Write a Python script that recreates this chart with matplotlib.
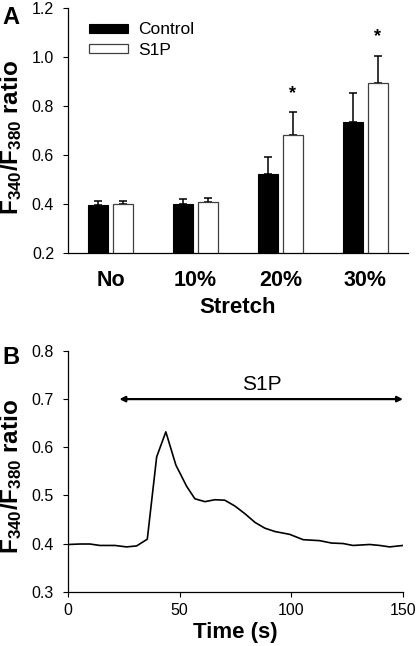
import numpy as np
import matplotlib
matplotlib.use("Agg")
import matplotlib.pyplot as plt

plt.rcParams["font.family"] = ["Liberation Sans", "DejaVu Sans"]
plt.rcParams["mathtext.fontset"] = "custom"
plt.rcParams["mathtext.rm"] = "Liberation Sans"
plt.rcParams["mathtext.bf"] = "Liberation Sans:bold"

# panel A data
stretch = ["No", "10%", "20%", "30%"]
control_mean = [0.395, 0.40, 0.524, 0.733]
control_err = [0.017, 0.019, 0.069, 0.121]
s1p_mean = [0.40, 0.41, 0.683, 0.894]
s1p_err = [0.012, 0.014, 0.091, 0.110]
significant = [False, False, True, True]

# panel B data
time_s = [0, 5.4, 9.8, 14.3, 21, 26.2, 30.7, 35.5, 39.7, 43.8, 48.3, 53.1, 56.8,
          61.3, 65.8, 70.2, 74.7, 79.2, 83.7, 88.1, 92.6, 99.3, 105.3, 112.7,
          118, 123.2, 127.6, 135.1, 139.6, 144, 150]
ratio = [0.398, 0.399, 0.399, 0.396, 0.396, 0.393, 0.395, 0.409, 0.580, 0.632,
         0.563, 0.519, 0.493, 0.487, 0.491, 0.490, 0.478, 0.462, 0.444, 0.432,
         0.425, 0.419, 0.408, 0.406, 0.401, 0.400, 0.396, 0.398, 0.396, 0.393, 0.396]
s1p_start, s1p_end = 23, 150

ylab = r"$\mathbf{F_{340}/F_{380}}$ ratio"

fig = plt.figure(figsize=(4.18, 6.46), dpi=100)

# ---- A ----
ax = fig.add_axes([0.1627, 0.6084, 0.8133, 0.3792])
x = np.arange(len(stretch))
w = 0.235
off = 0.147
ax.bar(x - off, control_mean, w, color="black", edgecolor="black", lw=0.8,
       label="Control", zorder=2)
ax.bar(x + off, s1p_mean, w, color="white", edgecolor="#404040", lw=0.9,
       label="S1P", zorder=2)
ax.errorbar(x - off, control_mean, yerr=[np.zeros(4), control_err], fmt="none",
            ecolor="black", elinewidth=1.1, capsize=3, capthick=1.1, zorder=1)
ax.errorbar(x + off, s1p_mean, yerr=[np.zeros(4), s1p_err], fmt="none",
            ecolor="black", elinewidth=1.1, capsize=3, capthick=1.1, zorder=1)
for i in range(len(stretch)):
    if significant[i]:
        ax.text(x[i] + off, s1p_mean[i] + s1p_err[i] + 0.078, "*", ha="center",
                va="center", fontsize=13, fontweight="bold")
ax.set_xlim(-0.5, 3.5)
ax.set_ylim(0.2, 1.2)
ax.set_yticks(np.arange(0.2, 1.21, 0.2))
ax.set_yticklabels([f"{v:.1f}" for v in np.arange(0.2, 1.21, 0.2)], fontsize=11.5)
ax.set_xticks(x)
ax.set_xticklabels(stretch, fontsize=15.5, fontweight="bold")
ax.tick_params(axis="x", length=0, pad=12)
ax.tick_params(axis="y", length=3.5, pad=6.5, direction="out", width=0.8)
for s in ["top", "right"]:
    ax.spines[s].set_visible(False)
for s in ["left", "bottom"]:
    ax.spines[s].set_linewidth(0.9)
ax.set_xlabel("Stretch", fontsize=16, fontweight="bold")
ax.xaxis.set_label_coords(0.5, -0.178)
ax.set_ylabel(ylab, fontsize=17.5, fontweight="bold")
ax.yaxis.set_label_coords(-0.128, 0.47)
ax.legend(loc="upper left", bbox_to_anchor=(0.04, 0.97), frameon=False,
          fontsize=12.5, handlelength=2.3, handleheight=0.42, handletextpad=0.55,
          labelspacing=0.3, borderaxespad=0)

# ---- B ----
bx = fig.add_axes([0.1627, 0.0841, 0.8014, 0.3726])
bx.plot(time_s, ratio, color="black", lw=1.2)
bx.annotate("", xy=(s1p_end, 0.7), xytext=(s1p_start, 0.7),
            arrowprops=dict(arrowstyle="<|-|>", color="black", lw=1.6,
                            mutation_scale=8, shrinkA=0, shrinkB=0))
bx.text(86.6, 0.730, "S1P", ha="center", va="center", fontsize=15)
bx.set_xlim(0, 150)
bx.set_ylim(0.3, 0.8)
bx.set_xticks([0, 50, 100, 150])
bx.set_yticks([0.3, 0.4, 0.5, 0.6, 0.7, 0.8])
bx.set_yticklabels(["0.3", "0.4", "0.5", "0.6", "0.7", "0.8"], fontsize=11.5)
bx.set_xticklabels(["0", "50", "100", "150"], fontsize=11.5)
bx.tick_params(axis="both", length=3.5, direction="out", width=0.8)
bx.tick_params(axis="y", pad=6.5)
bx.tick_params(axis="x", pad=5)
for s in ["top", "right"]:
    bx.spines[s].set_visible(False)
for s in ["left", "bottom"]:
    bx.spines[s].set_linewidth(0.9)
bx.set_xlabel("Time (s)", fontsize=16, fontweight="bold")
bx.xaxis.set_label_coords(0.5, -0.128)
bx.set_ylabel(ylab, fontsize=17.5, fontweight="bold")
bx.yaxis.set_label_coords(-0.13, 0.48)

fig.text(0.005, 0.99, "A", fontsize=17, fontweight="bold", va="top", ha="left")
fig.text(0.005, 0.465, "B", fontsize=17, fontweight="bold", va="top", ha="left")

fig.savefig("out.png", dpi=100)
